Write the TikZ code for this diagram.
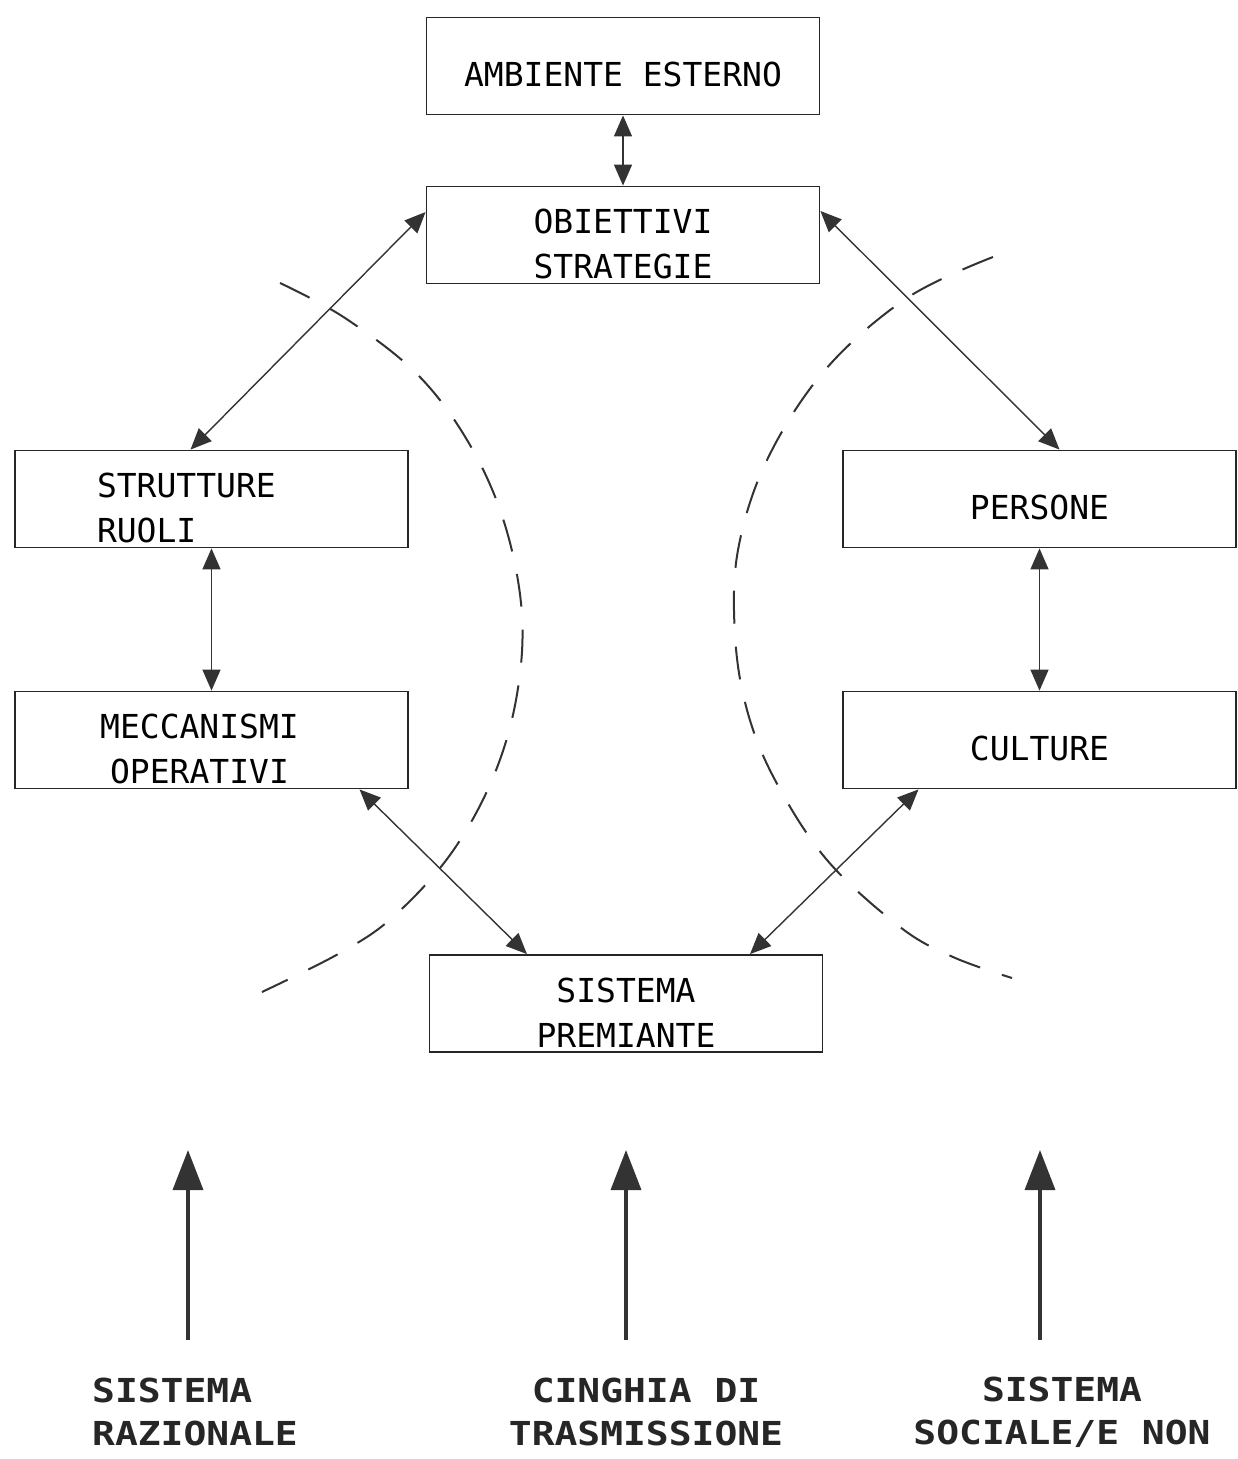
\documentclass[tikz,border=0pt]{standalone}
\usepackage{fontspec}
\usetikzlibrary{arrows.meta}
\newfontfamily\boxfont{DejaVu Sans Mono}
\newfontfamily\labfont[FakeStretch=1.15]{DejaVu Sans Mono}
\newcommand\lowstrut{\rule{0pt}{42pt}}
\begin{document}
\begin{tikzpicture}[x=1pt,y=-1pt,
  box/.style={draw=black!85, line width=1.8pt, minimum width=393pt, minimum height=97pt,
    inner sep=0pt, font=\boxfont\fontsize{33}{45}\selectfont, align=center},
  link/.style={line width=1.4pt, draw=black!80,
    {Triangle[length=21pt,width=18pt]}-{Triangle[length=21pt,width=18pt]}},
  bigarrow/.style={line width=3.5pt, draw=black!80, -{Triangle[length=40pt,width=30pt]}},
  sysdash/.style={line width=2pt, draw=black!80, dash pattern=on 33pt off 23pt},
  sysname/.style={font=\labfont\bfseries\fontsize{33}{43}\selectfont, inner sep=0pt, text=black!85}]
\useasboundingbox (0,0) rectangle (1238,1459);

% boxes
\node[box] (amb) at (623,66) {\lowstrut AMBIENTE ESTERNO};
\node[box] (obj) at (623,235) {\lowstrut OBIETTIVI\\STRATEGIE};
\node[box, align=left, text width=229pt, inner xsep=82pt] (str) at (211.5,499) {\lowstrut STRUTTURE\\RUOLI};
\node[box] (mec) at (211.5,740) {\lowstrut MECCANISMI\hspace*{24pt}\\OPERATIVI\hspace*{24pt}};
\node[box] (per) at (1039.5,499) {\lowstrut PERSONE};
\node[box] (cul) at (1039.5,740) {\lowstrut CULTURE};
\node[box] (sis) at (626,1003.5) {\lowstrut SISTEMA\\PREMIANTE};

% dashed boundaries
\draw[sysdash] plot[smooth, tension=0.6] coordinates {(280,283) (345,318) (418,375) (470,445)
  (505,525) (522,615) (516,700) (492,780) (450,855) (393,917) (340,953) (262,992)};
\draw[sysdash] plot[smooth, tension=0.6] coordinates {(993,257) (907,298) (825,370) (767,460)
  (738,550) (735,635) (747,710) (775,780) (827,860) (900,927) (953,957) (1012,978)};

% connectors
\draw[link] (amb.south) -- (obj.north);
\draw[link] ([yshift=23pt]obj.west) -- ([xshift=-21pt]str.north);
\draw[link] ([yshift=24pt]obj.east) -- ([xshift=20pt]per.north);
\draw[link] (str.south) -- (mec.north);
\draw[link] (per.south) -- (cul.north);
\draw[link] ([xshift=148pt]mec.south) -- ([xshift=-99pt]sis.north);
\draw[link] ([xshift=-121pt]cul.south) -- ([xshift=124pt]sis.north);

% bottom arrows
\coordinate (a1) at (188,1340); \coordinate (b1) at (188,1150);
\coordinate (a2) at (626,1340); \coordinate (b2) at (626,1150);
\coordinate (a3) at (1040,1340); \coordinate (b3) at (1040,1150);
\draw[bigarrow] (a1) -- (b1);
\draw[bigarrow] (a2) -- (b2);
\draw[bigarrow] (a3) -- (b3);

% labels
\node[sysname, anchor=west, align=left] (l1) at (92,1412) {SISTEMA\\RAZIONALE};
\node[sysname, align=center] (l2) at (646,1412) {CINGHIA DI\\TRASMISSIONE};
\node[sysname, align=center] (l3) at (1062,1412) {SISTEMA\\SOCIALE/E NON};
\end{tikzpicture}
\end{document}
